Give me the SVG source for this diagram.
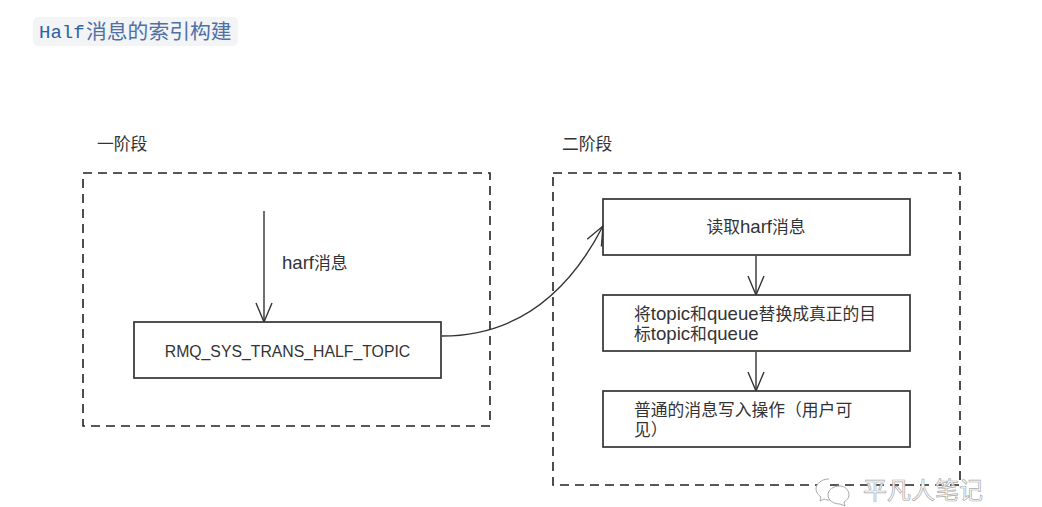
<svg xmlns="http://www.w3.org/2000/svg" width="1042" height="507" viewBox="0 0 1042 507">
<style>
.t{font-family:"Liberation Sans","Noto Sans CJK SC",sans-serif;font-size:16.800px;fill:#333}
.l{font-size:18.600px}
.box{fill:#fff;stroke:#333;stroke-width:1.7}
.dash{fill:none;stroke:#222;stroke-width:1.6;stroke-dasharray:9 6}
.line{fill:none;stroke:#333;stroke-width:1.4}
.wm{font-family:"Noto Sans CJK SC",sans-serif;font-size:24px;fill:#fff;stroke:#aaa;stroke-width:.7}
</style>
<defs><marker id="arr" markerUnits="userSpaceOnUse" markerWidth="24" markerHeight="24" refX="20" refY="12" orient="auto"><path d="M1 4L20 12L1 20" fill="none" stroke="#333" stroke-width="1.400"/></marker></defs>
<rect width="1042" height="507" fill="#fff"/>
<g id="title"><rect x="33" y="17" width="205" height="29" rx="5" fill="#f2f4f6"/>
<text x="39" y="38" font-family="'Liberation Mono',monospace" font-size="19" fill="#2a62a8">Half</text>
<text x="86" y="39" font-family="'Noto Sans CJK SC',sans-serif" font-size="20.800" fill="#4f6fa5">消息的索引构建</text></g>
<g id="phase1"><rect class="dash" x="83" y="173" width="407" height="253"/><text class="t" x="97" y="150">一阶段</text></g>
<g id="phase2"><rect class="dash" x="553" y="173" width="407" height="312"/><text class="t" x="562" y="150">二阶段</text></g>
<g id="connectors">
<path class="line" d="M264 211V322" marker-end="url(#arr)"/>
<path class="line" d="M442 336C520 336 570 290 603 226" marker-end="url(#arr)"/>
<path class="line" d="M756 256V295" marker-end="url(#arr)"/>
<path class="line" d="M756 352V391" marker-end="url(#arr)"/>
</g>
<g id="harf-label"><text class="t" x="282" y="269"><tspan class="l">harf</tspan>消息</text></g>
<g id="halftopic"><rect class="box" x="134" y="322" width="307" height="56"/><text x="287.500" y="357" text-anchor="middle" font-family="'Liberation Sans',sans-serif" font-size="15.800" fill="#333">RMQ_SYS_TRANS_HALF_TOPIC</text></g>
<g id="read"><rect class="box" x="603" y="199" width="307" height="56"/><text class="t" x="756" y="233" text-anchor="middle"><tspan>读取</tspan><tspan class="l">harf</tspan><tspan>消息</tspan></text></g>
<g id="replace"><rect class="box" x="603" y="295" width="307" height="56"/><text class="t" x="634" y="320">将<tspan class="l">topic</tspan>和<tspan class="l">queue</tspan>替换成真正的目</text><text class="t" x="634" y="340">标<tspan class="l">topic</tspan>和<tspan class="l">queue</tspan></text></g>
<g id="write"><rect class="box" x="603" y="391" width="307" height="56"/><text class="t" x="634" y="416">普通的消息写入操作（用户可</text><text class="t" x="634" y="436">见）</text></g>
<g id="watermark"><path d="M829 479c-8 0-13 5-13 10 0 3 2 6 5 8l-1 4 4-2c2 1 4 1 6 1M840 486c-7 0-12 4-12 9s5 9 12 9l5 2-1-4c3-2 5-4 5-7 0-5-4-9-9-9z" fill="#fff" stroke="#aaa"/><text class="wm" x="863" y="499">平凡人笔记</text></g>
</svg>
